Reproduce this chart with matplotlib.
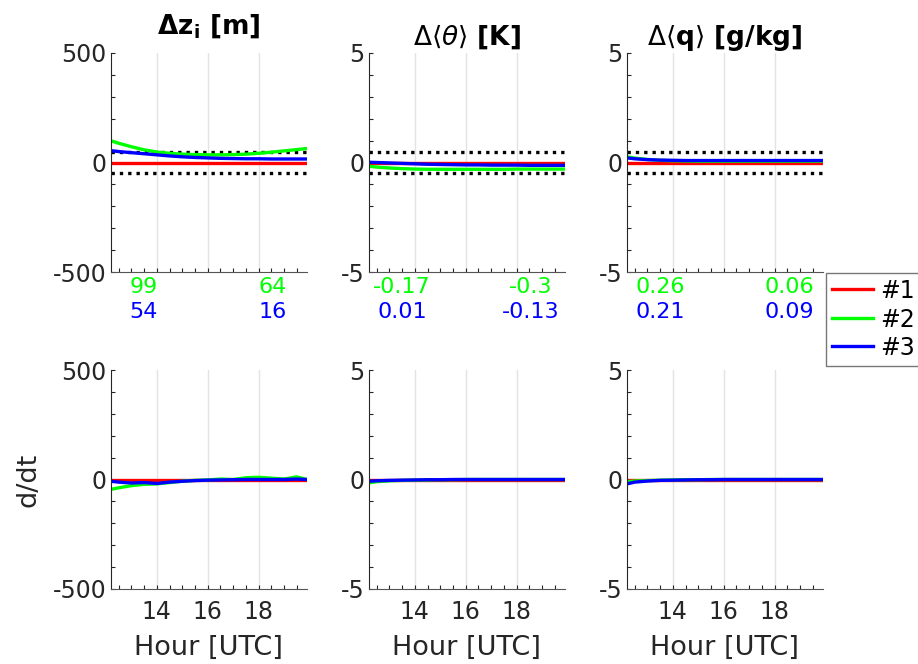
import numpy as np
import matplotlib.pyplot as plt

# time axis [h UTC]
hours = [12.2, 12.5, 13, 13.5, 14, 14.5, 15, 15.5, 16, 16.5, 17, 17.5, 18, 18.5, 19, 19.5, 19.9]

# ---- differences (run - reference) ----
zi_g = [99, 88, 72, 58, 48, 42, 38, 36, 35, 35, 36, 38, 42, 47, 53, 59, 64]
zi_b = [54, 50, 45, 40, 35, 30, 26, 23, 21, 19, 18, 17, 17, 16, 16, 16, 16]
th_g = [-0.17, -0.21, -0.25, -0.28, -0.30, -0.31, -0.31, -0.31, -0.31, -0.31, -0.31, -0.31, -0.30, -0.30, -0.30, -0.30, -0.30]
th_b = [0.01, 0.0, -0.02, -0.04, -0.06, -0.08, -0.09, -0.10, -0.11, -0.11, -0.12, -0.12, -0.12, -0.13, -0.13, -0.13, -0.13]
q_g = [0.26, 0.20, 0.14, 0.10, 0.08, 0.07, 0.06, 0.06, 0.06, 0.06, 0.06, 0.06, 0.06, 0.06, 0.06, 0.06, 0.06]
q_b = [0.21, 0.17, 0.13, 0.11, 0.10, 0.09, 0.09, 0.09, 0.09, 0.09, 0.09, 0.09, 0.09, 0.09, 0.09, 0.09, 0.09]

# ---- tendencies ----
dzi_g = [-45, -38, -28, -22, -20, -14, -8, -4, -2, 2, 0, 8, 10, 6, 2, 12, 0]
dzi_b = [-8, -12, -16, -14, -18, -12, -8, -5, -3, -2, -1, 0, 0, 0, 0, 2, 0]
dth_g = [-0.15, -0.10, -0.06, -0.04, -0.03, -0.02, -0.01, -0.01, 0, 0, 0, 0, 0, 0, 0, 0, 0]
dth_b = [-0.08, -0.06, -0.04, -0.03, -0.02, -0.01, -0.01, 0, 0, 0, 0, 0, 0, 0, 0, 0, 0]
dq_g = [-0.10, -0.07, -0.05, -0.03, -0.02, -0.01, -0.01, 0, 0, 0, 0, 0, 0, 0, 0, 0, 0]
dq_b = [-0.20, -0.12, -0.07, -0.04, -0.03, -0.02, -0.01, -0.01, 0, 0, 0, 0, 0, 0, 0, 0, 0]

titles = [r'$\mathbf{\Delta z_i}$ [m]', r'$\Delta\langle\theta\rangle$ [K]', r'$\Delta\langle\mathbf{q}\rangle$ [g/kg]']
lims = [500, 5, 5]
bands = [50, 0.5, 0.5]
start_lbl_g = ['99', '-0.17', '0.26']
end_lbl_g = ['64', '-0.3', '0.06']
start_lbl_b = ['54', '0.01', '0.21']
end_lbl_b = ['16', '-0.13', '0.09']

top = [(zi_g, zi_b), (th_g, th_b), (q_g, q_b)]
bot = [(dzi_g, dzi_b), (dth_g, dth_b), (dq_g, dq_b)]

RED, GREEN, BLUE = '#ff0000', '#00ff00', '#0000ff'
DARK = '#262626'

fig = plt.figure(figsize=(9.18, 6.64), dpi=100)
W, H = 918, 664
lefts = [111, 369, 627]
aw = 196
rows = [(53, 272), (370, 589)]

def style(ax, lim, xlabels):
    ax.set_xlim(12.2, 19.9)
    ax.set_ylim(-lim, lim)
    ax.set_xticks([14, 16, 18])
    ax.set_xticks(np.arange(12.5, 19.9, 0.5), minor=True)
    ax.set_yticks([-lim, 0, lim])
    ax.set_yticks(np.linspace(-lim, lim, 11), minor=True)
    ax.set_yticklabels([f'{-lim}', '0', f'{lim}'])
    for s in ['top', 'right']:
        ax.spines[s].set_visible(False)
    ax.spines['left'].set_color(DARK)
    ax.spines['bottom'].set_color('#555555')
    ax.tick_params(axis='both', which='both', direction='in', length=3, colors=DARK,
                   labelsize=17, width=0.8)
    ax.tick_params(axis='x', which='major', pad=8)
    ax.xaxis.grid(True, color='#e3e3e3', lw=1)
    ax.set_axisbelow(True)
    if not xlabels:
        ax.set_xticklabels([])
    else:
        ax.set_xlabel('Hour [UTC]', fontsize=19.5, color=DARK, labelpad=8)

handles = []
for j in range(3):
    # top row
    y0, y1 = rows[0]
    ax = fig.add_axes([lefts[j] / W, 1 - y1 / H, aw / W, (y1 - y0) / H])
    style(ax, lims[j], False)
    ax.axhline(bands[j], color='k', ls=(0, (1, 1.5)), lw=2.4)
    ax.axhline(-bands[j], color='k', ls=(0, (1, 1.5)), lw=2.4)
    h1, = ax.plot(hours, np.zeros(len(hours)), color=RED, lw=2.4, label='#1')
    h2, = ax.plot(hours, top[j][0], color=GREEN, lw=2.4, label='#2')
    h3, = ax.plot(hours, top[j][1], color=BLUE, lw=2.4, label='#3')
    if j == 0:
        handles = [h1, h2, h3]
        ax.set_title(titles[j], fontsize=19, fontweight='bold', pad=14)
    else:
        ax.set_title(titles[j], fontsize=19, fontweight='bold', pad=6)
    ax.text(0.168, -0.025, start_lbl_g[j], color=GREEN, fontsize=16, ha='center', va='top',
            transform=ax.transAxes)
    ax.text(0.168, -0.135, start_lbl_b[j], color=BLUE, fontsize=16, ha='center', va='top',
            transform=ax.transAxes)
    ax.text(0.826, -0.025, end_lbl_g[j], color=GREEN, fontsize=16, ha='center', va='top',
            transform=ax.transAxes)
    ax.text(0.826, -0.135, end_lbl_b[j], color=BLUE, fontsize=16, ha='center', va='top',
            transform=ax.transAxes)

    # bottom row
    y0, y1 = rows[1]
    ax = fig.add_axes([lefts[j] / W, 1 - y1 / H, aw / W, (y1 - y0) / H])
    style(ax, lims[j], True)
    ax.plot(hours, np.zeros(len(hours)), color=RED, lw=2.4)
    ax.plot(hours, bot[j][0], color=GREEN, lw=2.4)
    ax.plot(hours, bot[j][1], color=BLUE, lw=2.4)
    if j == 0:
        ax.set_ylabel('d/dt', fontsize=19.5, color=DARK, labelpad=8)

fig.legend(handles=handles, loc='upper left', bbox_to_anchor=(826 / W, 1 - 273 / H),
           fontsize=17, frameon=True, fancybox=False, edgecolor='#555555',
           handlelength=1.75, borderpad=0.25, labelspacing=0.2, handletextpad=0.3,
           borderaxespad=0, handleheight=0.9)

fig.savefig('out.png', dpi=100)
